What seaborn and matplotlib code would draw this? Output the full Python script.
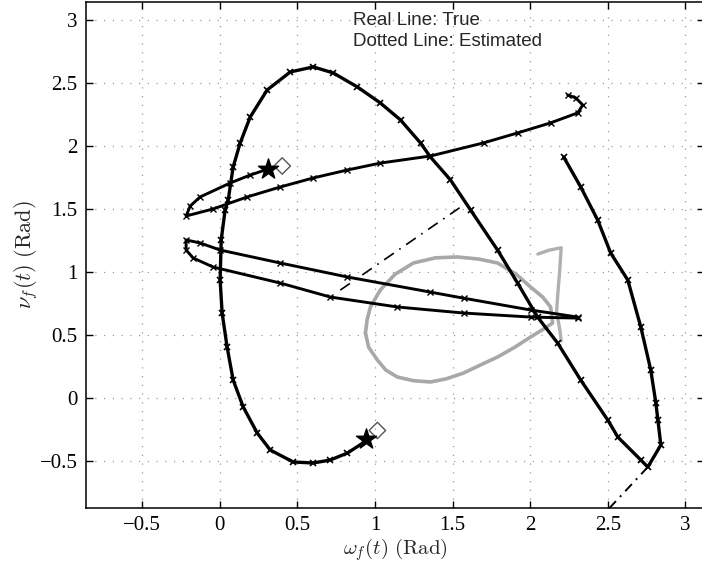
import matplotlib.pyplot as plt
import numpy as np
import pandas as pd
import seaborn as sns

# ── trajectory (omega_f, nu_f) ───────────────────────────────────────────
path_a_x = [0.952, 0.823, 0.713, 0.603, 0.474, 0.326, 0.242, 0.152, 0.087, 0.048,
            0.016, 0.003, 0.010, 0.035, 0.055, 0.087, 0.132, 0.197, 0.306, 0.455,
            0.603, 0.732, 0.887, 1.035, 1.165, 1.294, 1.358, 1.487, 1.616, 1.790,
            1.919, 2.048, 2.177, 2.326, 2.500, 2.565, 2.713, 2.758, 2.842, 2.823,
            2.810, 2.777, 2.713, 2.629, 2.519, 2.435, 2.326, 2.216]
path_a_y = [-0.336, -0.439, -0.494, -0.518, -0.510, -0.415, -0.280, -0.074, 0.140, 0.402,
            0.672, 0.934, 1.252, 1.490, 1.569, 1.831, 2.021, 2.228, 2.442, 2.585,
            2.625, 2.577, 2.466, 2.339, 2.204, 2.021, 1.910, 1.728, 1.490, 1.172,
            0.910, 0.640, 0.434, 0.140, -0.177, -0.312, -0.494, -0.550, -0.375, -0.177,
            -0.042, 0.220, 0.561, 0.934, 1.148, 1.410, 1.672, 1.910]

path_b_x = [0.313, 0.197, 0.068, -0.126, -0.190, -0.216, -0.042, 0.177, 0.390, 0.603,
            0.823, 1.035, 1.358, 1.700, 1.919, 2.132, 2.306, 2.339, 2.294, 2.242]
path_b_y = [1.815, 1.767, 1.704, 1.593, 1.521, 1.442, 1.498, 1.593, 1.672, 1.744,
            1.807, 1.862, 1.918, 2.022, 2.101, 2.181, 2.260, 2.323, 2.379, 2.402]

loop_x = [2.306, 2.003, 1.571, 1.358, 0.823, 0.390, 0.003, -0.126, -0.216, -0.216,
          -0.171, -0.042, 0.390, 0.713, 1.145, 1.571, 2.003, 2.306]
loop_y = [0.640, 0.696, 0.790, 0.838, 0.958, 1.069, 1.172, 1.228, 1.252, 1.172,
          1.109, 1.037, 0.910, 0.799, 0.720, 0.672, 0.640, 0.632]

ellipse_x = [0.939, 0.950, 0.971, 1.035, 1.130, 1.248, 1.390, 1.532, 1.670, 1.790,
             1.910, 2.003, 2.080, 2.132, 2.145, 2.080, 2.003, 1.900, 1.790, 1.680,
             1.571, 1.460, 1.358, 1.250, 1.145, 1.070, 1.016, 0.960, 0.939]
ellipse_y = [0.513, 0.620, 0.720, 0.855, 0.980, 1.069, 1.110, 1.117, 1.100, 1.069,
             0.980, 0.878, 0.800, 0.720, 0.593, 0.540, 0.482, 0.400, 0.323, 0.260,
             0.196, 0.150, 0.125, 0.135, 0.164, 0.220, 0.299, 0.400, 0.513]

spur_x = [2.05, 2.12, 2.20, 2.19, 2.18, 2.17, 2.19, 2.20]
spur_y = [1.14, 1.17, 1.19, 1.00, 0.85, 0.68, 0.55, 0.45]

dash1_x = [0.777, 1.616]
dash1_y = [0.854, 1.567]
dash2_x = [2.758, 2.487]
dash2_y = [-0.550, -0.907]

start_x = [1.016, 0.403]
start_y = [-0.260, 1.839]
end_x = [0.940, 0.313]
end_y = [-0.325, 1.815]

x_ticks = [-0.5, 0, 0.5, 1, 1.5, 2, 2.5, 3]
y_ticks = [-0.5, 0, 0.5, 1, 1.5, 2, 2.5, 3]
tick_labels = ["\u22120.5", "0", "0.5", "1", "1.5", "2", "2.5", "3"]

sns.set_theme(style="ticks")
plt.rcParams["font.family"] = ["Liberation Serif", "DejaVu Serif"]
plt.rcParams["mathtext.fontset"] = "cm"

fig = plt.figure(figsize=(7.02, 5.63), dpi=100)
ax = fig.add_axes([86 / 702, 1 - 508 / 563, 618 / 702, 506 / 563])


def _trace(xs, ys, **kw):
    df = pd.DataFrame({"x": xs, "y": ys})
    sns.lineplot(data=df, x="x", y="y", sort=False, estimator=None, ax=ax, **kw)


_trace(ellipse_x, ellipse_y, color="#a8a8a8", linewidth=2.6)
_trace(spur_x, spur_y, color="#b0b0b0", linewidth=2.4)
_trace(path_a_x, path_a_y, color="black", linewidth=2.4,
       marker="x", markersize=5, markeredgewidth=1.2, markeredgecolor="black")
_trace(path_b_x, path_b_y, color="black", linewidth=2.1,
       marker="x", markersize=4, markeredgewidth=1.0, markeredgecolor="black")
_trace(loop_x, loop_y, color="black", linewidth=2.1,
       marker="x", markersize=4, markeredgewidth=1.0, markeredgecolor="black")
_trace(dash1_x, dash1_y, color="black", linewidth=1.2, linestyle=(0, (7, 4, 1, 4)))
_trace(dash2_x, dash2_y, color="black", linewidth=1.4, linestyle=(0, (5, 3, 1, 3)))

sns.scatterplot(x=start_x, y=start_y, marker="D", s=70, facecolor="none",
                edgecolor="#555555", linewidth=1.0, ax=ax, zorder=5)
sns.scatterplot(x=end_x, y=end_y, marker="*", s=230, color="black",
                edgecolor="black", linewidth=1.0, ax=ax, zorder=5)

ax.set_xlim(-0.861, 3.12)
ax.set_ylim(-0.875, 3.14)
ax.set_xticks(x_ticks)
ax.set_yticks(y_ticks)
ax.set_xticklabels(tick_labels)
ax.set_yticklabels(tick_labels)
ax.tick_params(direction="in", length=5, width=1, top=True, right=True,
               labelsize=15, colors="black", pad=6)
ax.grid(True, color="#9a9a9a", linestyle=(0, (1, 6)), linewidth=0.9)
for s in ax.spines.values():
    s.set_color("black")
    s.set_linewidth(1.1)

ax.set_xlabel(r"$\omega_f(t)\ \mathrm{(Rad)}$", fontsize=15, labelpad=1)
ax.set_ylabel(r"$\nu_f(t)\ \mathrm{(Rad)}$", fontsize=16, labelpad=0)

ax.text(0.432, 0.964, "Real Line: True", transform=ax.transAxes, va="center",
        ha="left", fontsize=13.5, family="Liberation Sans")
ax.text(0.432, 0.921, "Dotted Line: Estimated", transform=ax.transAxes, va="center",
        ha="left", fontsize=13.5, family="Liberation Sans")

fig.savefig("out.png", dpi=100)
